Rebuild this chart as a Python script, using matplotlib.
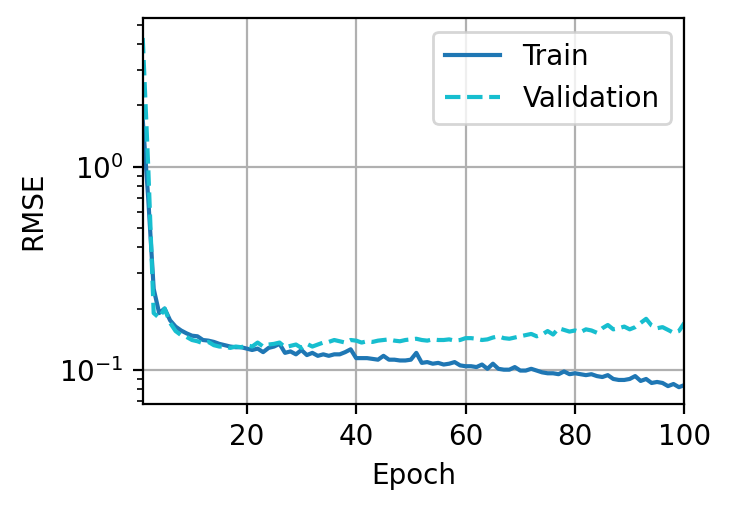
import matplotlib
matplotlib.use("Agg")
import matplotlib.pyplot as plt

epochs = list(range(1, 101))
train = [1.7, 0.7, 0.25, 0.19, 0.2, 0.175, 0.163, 0.156, 0.151, 0.147,
         0.146, 0.14, 0.139, 0.137, 0.134, 0.132, 0.13, 0.129, 0.129, 0.127,
         0.125, 0.127, 0.122, 0.128, 0.13, 0.134, 0.121, 0.123, 0.119, 0.125,
         0.118, 0.121, 0.117, 0.119, 0.117, 0.119, 0.119, 0.122, 0.126, 0.114,
         0.114, 0.114, 0.113, 0.112, 0.117, 0.112, 0.112, 0.111, 0.111, 0.112,
         0.121, 0.108, 0.109, 0.107, 0.108, 0.106, 0.107, 0.109, 0.105, 0.104,
         0.104, 0.103, 0.106, 0.101, 0.107, 0.101, 0.1, 0.1, 0.103, 0.099,
         0.099, 0.101, 0.099, 0.097, 0.096, 0.096, 0.095, 0.098, 0.095, 0.096,
         0.095, 0.094, 0.095, 0.093, 0.092, 0.094, 0.09, 0.089, 0.089, 0.09,
         0.093, 0.088, 0.09, 0.086, 0.087, 0.086, 0.083, 0.085, 0.082, 0.084]
valid = [4.3, 1.0, 0.19, 0.18, 0.2, 0.17, 0.155, 0.148, 0.145, 0.14,
         0.138, 0.135, 0.137, 0.132, 0.13, 0.13, 0.128, 0.13, 0.129, 0.132,
         0.13, 0.136, 0.13, 0.133, 0.134, 0.136, 0.129, 0.131, 0.133, 0.128,
         0.134, 0.13, 0.133, 0.136, 0.137, 0.14, 0.138, 0.136, 0.14, 0.139,
         0.136, 0.138, 0.137, 0.139, 0.14, 0.141, 0.139, 0.138, 0.14, 0.141,
         0.142, 0.14, 0.139, 0.141, 0.14, 0.14, 0.141, 0.139, 0.14, 0.143,
         0.143, 0.142, 0.14, 0.141, 0.144, 0.146, 0.143, 0.142, 0.144, 0.146,
         0.148, 0.15, 0.146, 0.149, 0.155, 0.149, 0.16, 0.157, 0.154, 0.156,
         0.153, 0.158, 0.156, 0.152, 0.16, 0.166, 0.158, 0.16, 0.163, 0.158,
         0.162, 0.17, 0.178, 0.165, 0.16, 0.162, 0.157, 0.152, 0.155, 0.17]

fig = plt.figure(figsize=(3.66, 2.555), dpi=200)
ax = fig.add_axes([0.195, 0.21, 0.74, 0.755])
ax.plot(epochs, train, '-', color='#1f77b4', lw=1.5, label='Train')
ax.plot(epochs, valid, '--', color='#17becf', lw=1.5, label='Validation')
ax.set_yscale('log')
ax.set_xlim(1, 100)
ax.set_ylim(0.068, 5.4)
ax.set_xticks([20, 40, 60, 80, 100])
ax.set_xlabel('Epoch')
ax.set_ylabel('RMSE')
ax.grid(True)
ax.legend(loc='upper right')
fig.savefig('out.png', dpi=200)
